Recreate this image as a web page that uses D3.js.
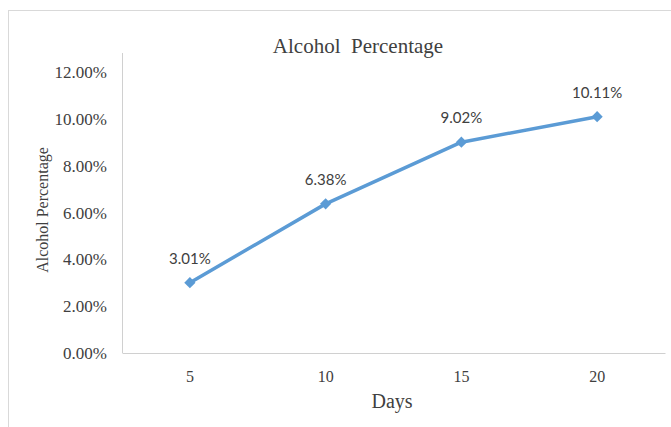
<!DOCTYPE html>
<html>
<head>
<meta charset="utf-8">
<script src="https://cdn.jsdelivr.net/npm/d3@7"></script>
<style>
  body { margin: 0; background: #fff; }
  .serif { font-family: "Liberation Serif", "Times New Roman", serif; }
</style>
</head>
<body>
<div id="chart"></div>
<script>
var days = ["5", "10", "15", "20"];
var alcohol = [3.01, 6.38, 9.02, 10.11];
var yTicks = [0, 2, 4, 6, 8, 10, 12];

var W = 671, H = 427;
var plotL = 122, plotR = 665, plotT = 53, plotB = 353;

var svg = d3.select("#chart").append("svg")
    .attr("width", W)
    .attr("height", H);

// chart frame
svg.append("rect")
    .attr("x", 8.5).attr("y", 10.5)
    .attr("width", 700).attr("height", 500)
    .attr("fill", "none")
    .attr("stroke", "#d9d9d9");

var x = d3.scaleBand().domain(days).range([plotL, plotR]);
var y = d3.scaleLinear().domain([0, 12]).range([plotB, 72.5]);

// y axis
var yAxis = svg.append("g")
    .attr("transform", "translate(" + plotL + ",0)")
    .call(d3.axisLeft(y).tickValues(yTicks).tickSize(0).tickPadding(15)
        .tickFormat(function(d) { return d.toFixed(2) + "%"; }));
yAxis.select(".domain").remove();
yAxis.selectAll("text")
    .attr("class", "serif")
    .style("font-family", '"Liberation Serif", "Times New Roman", serif')
    .style("font-size", "17px")
    .attr("fill", "#404040");
svg.append("line")
    .attr("x1", plotL + 0.5).attr("x2", plotL + 0.5)
    .attr("y1", plotT).attr("y2", plotB)
    .attr("stroke", "#d0d0d0");

// x axis
var xAxis = svg.append("g")
    .attr("transform", "translate(0," + plotB + ")")
    .call(d3.axisBottom(x).tickSize(0).tickPadding(18));
xAxis.select(".domain").attr("stroke", "#d0d0d0");
xAxis.selectAll("text")
    .style("font-family", '"Liberation Serif", "Times New Roman", serif')
    .style("font-size", "16px")
    .attr("fill", "#404040");

// titles
svg.append("text")
    .attr("x", 358).attr("y", 53)
    .attr("text-anchor", "middle")
    .style("font-family", '"Liberation Serif", "Times New Roman", serif')
    .style("font-size", "21px")
    .style("white-space", "pre")
    .attr("fill", "#404040")
    .text("Alcohol  Percentage");

svg.append("text")
    .attr("x", 392).attr("y", 408)
    .attr("text-anchor", "middle")
    .style("font-family", '"Liberation Serif", "Times New Roman", serif')
    .style("font-size", "20px")
    .attr("fill", "#404040")
    .text("Days");

svg.append("text")
    .attr("transform", "translate(48,210) rotate(-90)")
    .attr("text-anchor", "middle")
    .style("font-family", '"Liberation Serif", "Times New Roman", serif')
    .style("font-size", "16px")
    .attr("fill", "#404040")
    .text("Alcohol Percentage");

// series
var pts = days.map(function(d, i) { return { day: d, v: alcohol[i] }; });
var cx = function(p) { return x(p.day) + x.bandwidth() / 2; };

svg.append("path")
    .datum(pts)
    .attr("fill", "none")
    .attr("stroke", "#5b9bd5")
    .attr("stroke-width", 3.5)
    .attr("stroke-linejoin", "round")
    .attr("d", d3.line().x(cx).y(function(p) { return y(p.v); }));

svg.selectAll(".mark")
    .data(pts)
    .enter().append("path")
    .attr("class", "mark")
    .attr("transform", function(p) { return "translate(" + cx(p) + "," + y(p.v) + ")"; })
    .attr("d", d3.symbol().type(d3.symbolDiamond2).size(80))
    .attr("fill", "#5b9bd5");

svg.selectAll(".lbl")
    .data(pts)
    .enter().append("text")
    .attr("class", "lbl")
    .attr("x", cx)
    .attr("y", function(p) { return y(p.v) - 19; })
    .attr("text-anchor", "middle")
    .style("font-family", 'Lato, "Open Sans", sans-serif')
    .style("font-size", "15px")
    .attr("fill", "#404040")
    .text(function(p) { return p.v.toFixed(2) + "%"; });
</script>
</body>
</html>
